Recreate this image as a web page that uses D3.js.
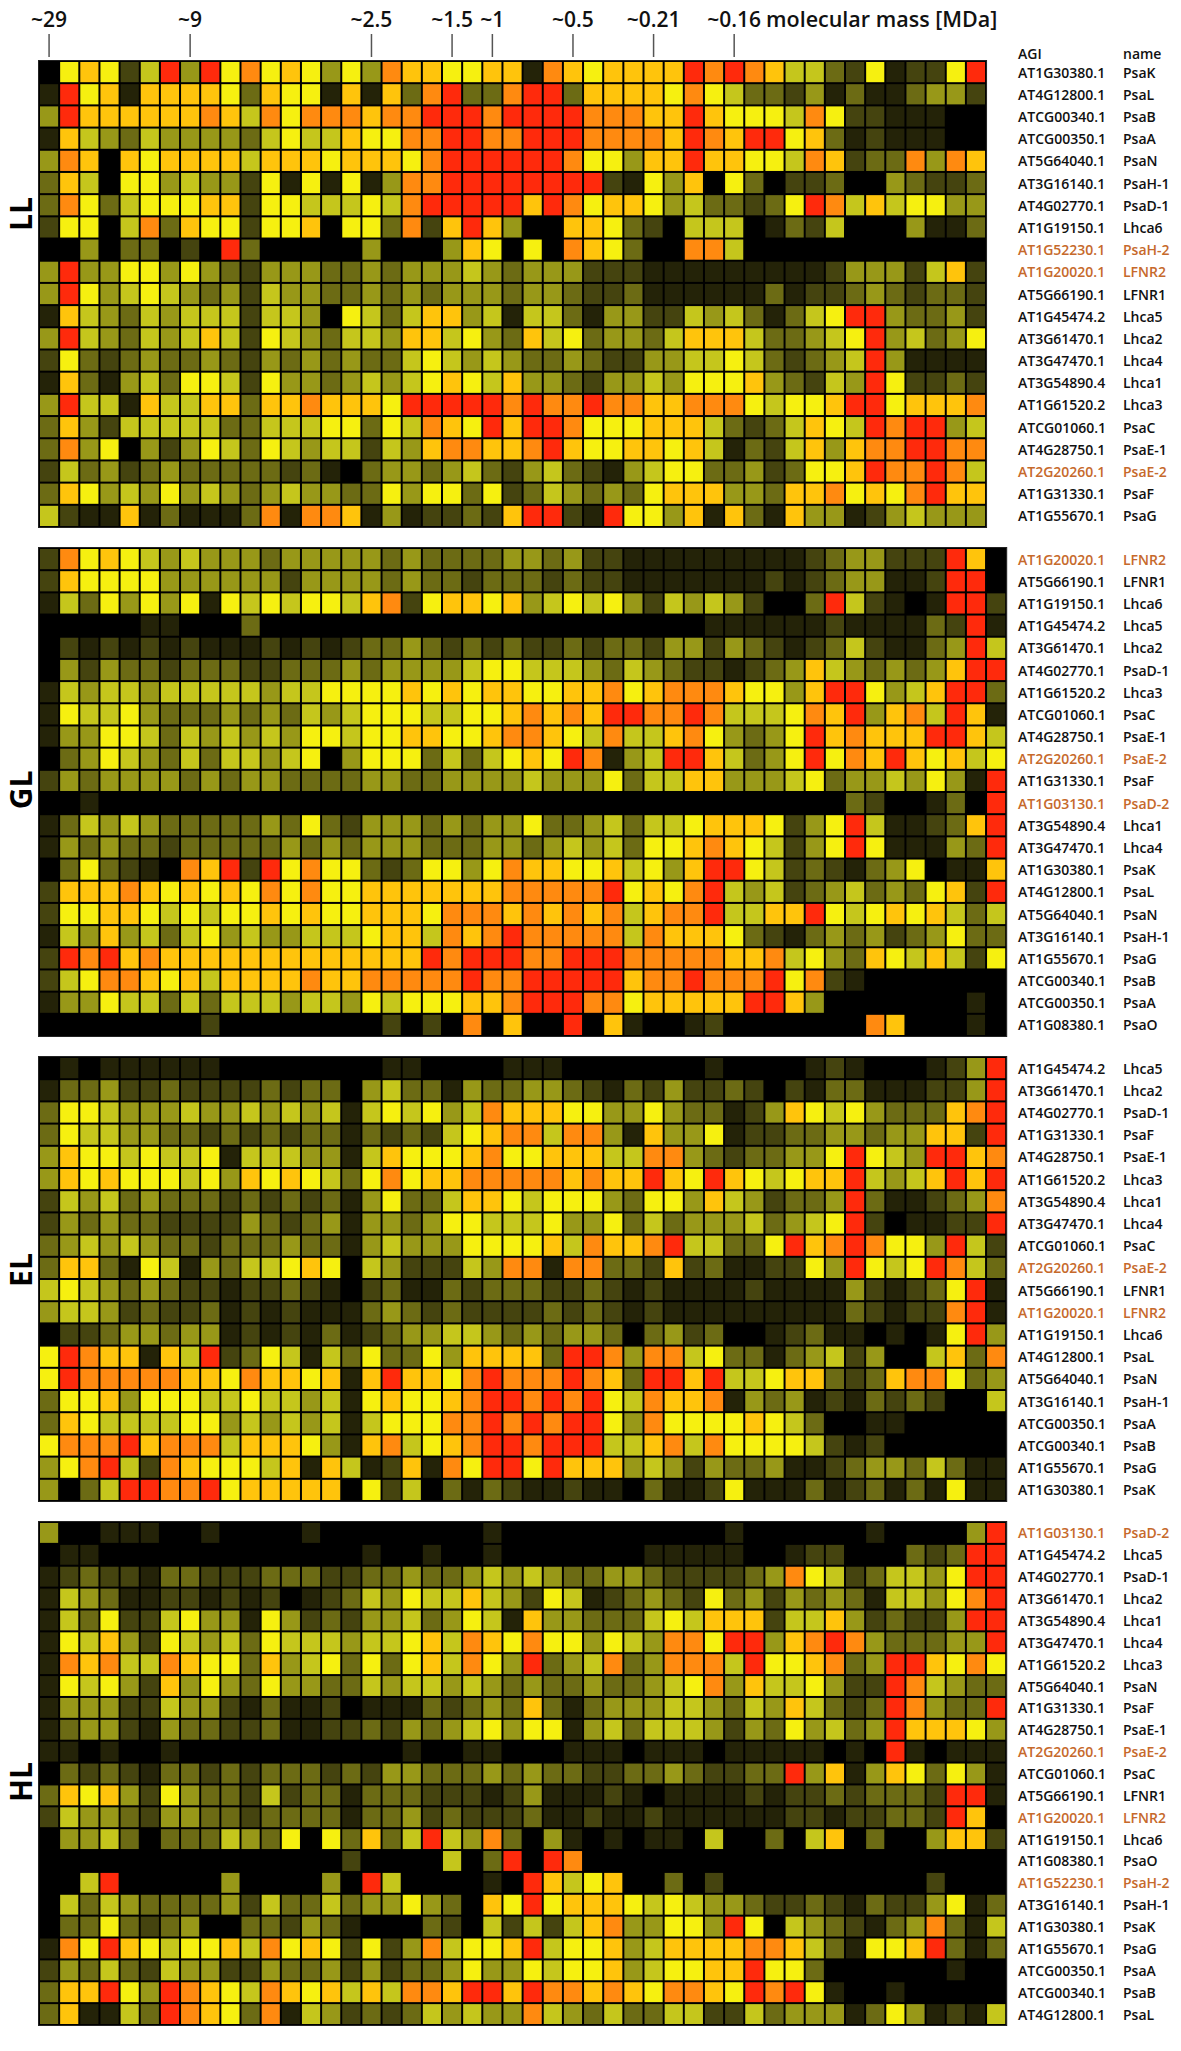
<!DOCTYPE html>
<html>
<head>
<meta charset="utf-8">
<script src="https://cdn.jsdelivr.net/npm/d3@7"></script>
<style>
  body { margin: 0; background: #fff; }
  text { font-family: "Open Sans", "Noto Sans", sans-serif; }
</style>
</head>
<body>
<svg id="chart" width="1181" height="2051"></svg>
<script>
// ---- data ----
// column ticks: approximate molecular mass of the gel slice
const massTickCols = [0, 7, 16, 20, 22, 26, 30, 34];
const massTickLabels = ['~29', '~9', '~2.5', '~1.5', '~1', '~0.5', '~0.21', '~0.16'];

// protein name -> AGI code
const agiNames = ['PsaK', 'PsaL', 'PsaB', 'PsaA', 'PsaN', 'PsaH-1', 'PsaD-1', 'Lhca6', 'PsaH-2', 'LFNR2', 'LFNR1',
    'Lhca5', 'Lhca2', 'Lhca4', 'Lhca1', 'Lhca3', 'PsaC', 'PsaE-1', 'PsaE-2', 'PsaF', 'PsaG', 'PsaD-2', 'PsaO'];
const agiCodes = ['AT1G30380.1', 'AT4G12800.1', 'ATCG00340.1', 'ATCG00350.1', 'AT5G64040.1', 'AT3G16140.1', 'AT4G02770.1',
    'AT1G19150.1', 'AT1G52230.1', 'AT1G20020.1', 'AT5G66190.1', 'AT1G45474.2', 'AT3G61470.1', 'AT3G47470.1', 'AT3G54890.4',
    'AT1G61520.2', 'ATCG01060.1', 'AT4G28750.1', 'AT2G20260.1', 'AT1G31330.1', 'AT1G55670.1', 'AT1G03130.1', 'AT1G08380.1'];
// isoforms shown in orange
const isoforms = ['PsaH-2', 'LFNR2', 'PsaE-2', 'PsaD-2'];

// relative abundance, one digit per gel slice (0 = none ... 9 = max)
const llNames = ['PsaK', 'PsaL', 'PsaB', 'PsaA', 'PsaN', 'PsaH-1', 'PsaD-1', 'Lhca6', 'PsaH-2', 'LFNR2', 'LFNR1',
    'Lhca5', 'Lhca2', 'Lhca4', 'Lhca1', 'Lhca3', 'PsaC', 'PsaE-1', 'PsaE-2', 'PsaF', 'PsaG'];
const llValues = [
    '06762594968676464877667' + '718767777989875532612269',
    '19671777763766171738933' + '899377776865332413113442',
    '49777777875868887889998' + '999988877976665862211100',
    '17543544443565576688998' + '899988887987996731211100',
    '48707677775777677768999' + '999866477977665872338487',
    '37506645442616161488999' + '999992164706302230043223',
    '38635666772665556589999' + '979867764533236985756644',
    '26605837662667066382797' + '400776320555013250004113',
    '00403302093000004000476' + '060876300885000000000000',
    '49446646432444334344454' + '344422211111111124442572',
    '49645654342544334343444' + '344322311111131223432332',
    '17543545552554065357745' + '155314422545313569943342',
    '49543545752654355477564' + '375634435777533456945346',
    '26323433432434343356545' + '433432244556532345941111',
    '17314536652644345456765' + '744324454666743254962232',
    '49551755773778777699999' + '898898877888656679967778',
    '37425555533555663658769' + '799866677753235765989945',
    '38460424653654552547887' + '789766776751325747889988',
    '25342343333323103443453' + '245321456633423667988985',
    '37645464543454433646636' + '235434367774437786768977',
    '52117131113818871412232' + '799219664717317441245444'
];

const glNames = ['LFNR2', 'LFNR1', 'Lhca6', 'Lhca5', 'Lhca2', 'PsaD-1', 'Lhca3', 'PsaC', 'PsaE-1', 'PsaE-2', 'PsaF',
    'PsaD-2', 'Lhca1', 'Lhca4', 'PsaK', 'PsaL', 'PsaN', 'PsaH-1', 'PsaG', 'PsaB', 'PsaA', 'PsaO'];
const glValues = [
    '28676545444344444343333' + '4434221111111112344222970',
    '27666644444424444343323' + '3323221111111212344112990',
    '15364646165656657826776' + '7456564254542003952101992',
    '00000110003000000000000' + '0000000000111111211113291',
    '02121212111212123343232' + '3223233244243212352113495',
    '04243323332233343444456' + '6555435432212347543434799',
    '15455455555455666676767' + '7667786788876647996457993',
    '16556433343435456665566' + '7878799889855568794785971',
    '14466535454546656677667' + '8876585578643469787779975',
    '03465435355456046663535' + '6769814599753469687976756',
    '24344443434433334433444' + '4544463557744456344546419',
    '00100000000000000000000' + '0000000000000000032001309',
    '13545433333436324443434' + '4633453556777624695112379',
    '14343323333343434443334' + '4345453667876524696111439',
    '03632108792968663236646' + '8776675647996523213460117',
    '27778767676868667777777' + '8888896768954523453436729',
    '26677656566767667776888' + '7878785788955779656767535',
    '15474535645445556775878' + '9888885877763213434234633',
    '29897877777777777779899' + '9889998888877856437657526',
    '25688767577778778888898' + '8999997889888968210000000',
    '14465535355545546566677' + '8999886777779974000000010',
    '00000000200000000202080' + '7009071001200000008700010'
];

const elNames = ['Lhca5', 'Lhca2', 'PsaD-1', 'PsaF', 'PsaE-1', 'Lhca3', 'Lhca1', 'Lhca4', 'PsaC', 'PsaE-2', 'LFNR1',
    'LFNR2', 'Lhca6', 'PsaL', 'PsaN', 'PsaH-1', 'PsaA', 'PsaB', 'PsaG', 'PsaK'];
const elValues = [
    '01011111100000000110000' + '1110000000100001210001249',
    '13342232222323304533143' + '3443213242232021331112249',
    '36654445445454515656458' + '7776644643312476564333789',
    '36554433232323313232567' + '8858841744612233443447729',
    '47665655615554415766678' + '6677755884323344696549978',
    '47676665647676536867788' + '8887877976976567795457979',
    '25453433323232314633577' + '6566643664754233493112348',
    '24343322224323414434665' + '5564463534445345692011229',
    '34545433233343314544466' + '6675877895533697898664952',
    '37731651435567605422254' + '8818833272311226496569853',
    '56543432212232102311323' + '3322321211112111142123691',
    '45542322312121113432322' + '2232321211111111132122891',
    '02234434412121312344554' + '3434430342300123110101694',
    '69877175923651536336477' + '7739984885633134524005738',
    '69888887768776717977689' + '8889873997955677323788634',
    '36674666556554516766789' + '9898965877814341213232005',
    '37655556645454515666889' + '8989964866667653001100000',
    '68889788857776417856789' + '9899955785866665212000000',
    '46895287666571751271869' + '9697774542433411234435311',
    '40359988967777706250313' + '2112110311261113123131611'
];

const hlNames = ['PsaD-2', 'Lhca5', 'PsaD-1', 'Lhca2', 'Lhca1', 'Lhca4', 'Lhca3', 'PsaN', 'PsaF', 'PsaE-1', 'PsaE-2',
    'PsaC', 'LFNR1', 'LFNR2', 'Lhca6', 'PsaO', 'PsaH-2', 'PsaH-1', 'PsaK', 'PsaG', 'PsaA', 'PsaB', 'PsaL'];
const hlValues = [
    '40011100100001000000001' + '0000000000010000001000049',
    '01100000000000001001001' + '0000000111110012200032399',
    '12322133222333223343345' + '4543344322223486523554699',
    '15431122121201235465575' + '4265123432634243431554689',
    '15362256441642324453465' + '1744333565777255742322499',
    '16574265453655545567587' + '6866465488699478984333449',
    '18785587663745636367586' + '4934583488859667834997686',
    '16564274643644335455454' + '3433433456847556422985433',
    '14442254421311201113234' + '3731344455435475323984339',
    '13442143322311223243456' + '4661453555424364534977764',
    '11010010000000000010011' + '0001110111011111010910111',
    '03232133232333232443334' + '3433223343223394714763641',
    '37674264332523313332221' + '2411121011112122323332991',
    '25443244332333313342322' + '2311211211111122122332970',
    '04453033354360637359548' + '3041010110500305703004772',
    '00000000000000020000503' + '9098000000000000000000000',
    '00590000040000409500001' + '0975670030200000000002000',
    '05354333342533534464307' + '6967776565443223213224613',
    '03363234003324310003205' + '2525784466496054321348315',
    '18697656675867626248566' + '7956674577778875316679313',
    '24353254422433424233464' + '4656674566779663000000100',
    '37796498765876757588799' + '7988787688769896100100000',
    '37115398763815423235454' + '4854353355225344413641215'
];

const panelTitles = ['LL', 'GL', 'EL', 'HL'];

// ---- layout ----
const
    svg = d3.select('#chart'),
    gridLeft = 39,
    cellW = 20.15,
    panelTops = [61, 548, 1057, 1522],
    panelBottoms = [527, 1036, 1501, 2025],
    agiX = 1018,
    nameX = 1123,
    titleY = [214, 790, 1270, 1782],
    orange = '#c6692b';

// black -> olive -> yellow -> orange -> red
const levelColors = ['#000000', '#242308', '#45440f', '#6c6b14', '#989818', '#c5c61c',
    '#f6f010', '#ffc40c', '#ff8a10', '#ff2a0c'];
const color = d3.scaleLinear().domain(d3.range(10)).range(levelColors).clamp(true);

const agiOf = name => agiCodes[agiNames.indexOf(name)];

const panels = [
    { title: panelTitles[0], names: llNames, rows: llValues },
    { title: panelTitles[1], names: glNames, rows: glValues },
    { title: panelTitles[2], names: elNames, rows: elValues },
    { title: panelTitles[3], names: hlNames, rows: hlValues }
];

// header: molecular mass ticks, placed on the LL column scale
const xTop = d3.scaleBand()
    .domain(d3.range(llValues[0].length))
    .range([gridLeft, gridLeft + llValues[0].length * cellW]);

const head = svg.append('g');
head.selectAll('line')
    .data(massTickCols)
    .join('line')
    .attr('x1', d => xTop(d) + xTop.bandwidth() / 2)
    .attr('x2', d => xTop(d) + xTop.bandwidth() / 2)
    .attr('y1', 34)
    .attr('y2', 57)
    .attr('stroke', '#555')
    .attr('stroke-width', 1.5);
head.selectAll('text')
    .data(massTickCols)
    .join('text')
    .attr('x', d => xTop(d) + xTop.bandwidth() / 2)
    .attr('y', 27)
    .attr('text-anchor', 'middle')
    .attr('font-size', 21)
    .attr('font-weight', 600)
    .attr('fill', '#111')
    .text((d, i) => massTickLabels[i]);
head.append('text')
    .attr('x', 766)
    .attr('y', 27)
    .attr('font-size', 21.5)
    .attr('font-weight', 600)
    .attr('fill', '#111')
    .text('molecular mass [MDa]');

// column headers of the label table
svg.append('text').attr('x', agiX).attr('y', 53).attr('dominant-baseline', 'central')
    .attr('font-size', 14).attr('font-weight', 600).attr('fill', '#111').text('AGI');
svg.append('text').attr('x', nameX).attr('y', 53).attr('dominant-baseline', 'central')
    .attr('font-size', 14).attr('font-weight', 600).attr('fill', '#111').text('name');

// panels
panels.forEach((p, k) => {

    const
        nCols = p.rows[0].length,
        nRows = p.names.length,
        x = d3.scaleBand().domain(d3.range(nCols)).range([gridLeft, gridLeft + nCols * cellW]),
        y = d3.scaleBand().domain(d3.range(nRows)).range([panelTops[k], panelBottoms[k]]),
        g = svg.append('g');

    // black grid background
    g.append('rect')
        .attr('x', x.range()[0] - 0.5)
        .attr('y', y.range()[0] - 0.5)
        .attr('width', x.range()[1] - x.range()[0] + 1)
        .attr('height', y.range()[1] - y.range()[0] + 1)
        .attr('fill', '#000')
        .attr('stroke', '#222')
        .attr('stroke-width', 1);

    const cells = p.rows.flatMap((r, i) => r.split('').map((c, j) => ({ i, j, v: +c })));

    g.selectAll('rect.cell')
        .data(cells)
        .join('rect')
        .attr('class', 'cell')
        .attr('x', d => x(d.j) + 1)
        .attr('y', d => y(d.i) + 1)
        .attr('width', x.bandwidth() - 2)
        .attr('height', y.bandwidth() - 2)
        .attr('fill', d => color(d.v));

    // row labels: AGI and protein name
    const lab = g.selectAll('g.lab')
        .data(p.names)
        .join('g')
        .attr('class', 'lab')
        .attr('transform', (d, i) => `translate(0,${y(i) + y.bandwidth() / 2})`)
        .attr('fill', d => isoforms.includes(d) ? orange : '#111');
    lab.append('text')
        .attr('x', agiX)
        .attr('dominant-baseline', 'central')
        .attr('font-size', 14)
        .attr('font-weight', 600)
        .text(d => agiOf(d));
    lab.append('text')
        .attr('x', nameX)
        .attr('dominant-baseline', 'central')
        .attr('font-size', 14)
        .attr('font-weight', 600)
        .text(d => d);

    // panel title, rotated
    g.append('text')
        .attr('transform', `translate(20,${titleY[k]}) rotate(-90)`)
        .attr('text-anchor', 'middle')
        .attr('dominant-baseline', 'central')
        .attr('font-size', 30)
        .attr('font-weight', 700)
        .attr('fill', '#000')
        .text(p.title);
});
</script>
</body>
</html>
